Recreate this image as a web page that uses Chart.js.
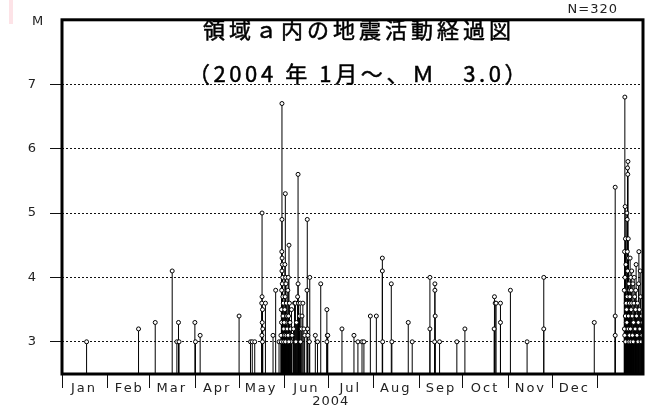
<!DOCTYPE html>
<html>
<head>
<meta charset="utf-8">
<script src="https://cdn.jsdelivr.net/npm/chart.js@4/dist/chart.umd.min.js"></script>
<style>
  body { margin: 0; background: #fff; }
  #wrap { position: relative; width: 648px; height: 414px; }
  #mark { position: absolute; left: 9px; top: 0; width: 4px; height: 24px; background: #fde3e7; }
</style>
</head>
<body>
<div id="wrap">
  <div id="mark"></div>
  <canvas id="mt" width="648" height="414"></canvas>
</div>
<script>
// days since 2004-01-01 and magnitude of each event (M >= 3.0)
const days = [
  16.8, 52.3, 63.7, 75.3, 78.5, 79.6, 80.0, 90.8, 91.2, 94.4, 121.0,
  128.8, 130.0, 131.7, 136.7, 136.7, 136.5, 137.0, 136.8, 137.2, 136.6, 137.0, 139.0, 144.2, 146.0, 148.3,
  150.3, 150.3, 150.2, 150.4, 150.6, 150.3, 150.8, 150.5, 150.1, 150.9, 151.2, 149.9, 151.0, 150.0, 151.5, 149.6, 149.8,
  152.6, 152.3, 152.8, 153.0, 152.5, 153.3, 152.2, 153.6, 152.9, 153.8, 152.0, 154.0, 151.8, 151.4, 153.1, 152.7,
  155.1, 154.6, 154.3, 155.4, 154.8, 155.8, 156.2, 155.6, 156.5, 154.5, 155.0, 156.8, 157.2,
  158.2, 158.9, 159.5, 160.2, 161.3, 161.3, 161.0, 161.6, 162.3, 162.8, 163.5, 164.0, 164.6, 165.3, 165.8, 159.8, 163.0,
  167.6, 167.4, 167.8, 168.0, 169.3, 169.0, 173.1, 174.6, 176.8, 181.0, 181.3, 181.0, 181.6, 191.3, 199.5,
  202.2, 205.0, 206.3, 210.7, 214.8, 218.9, 218.9, 219.1, 225.0, 225.4, 236.6, 239.3,
  251.4, 251.4, 254.8, 254.8, 255.0, 254.6, 258.0,
  269.8, 275.3, 295.5, 295.3, 296.0, 296.6, 299.6, 299.6, 306.4, 317.8, 329.2, 329.2, 363.7,
  378.0, 378.0, 378.0,
  384.6, 384.8, 385.0, 384.4, 385.3, 384.7, 384.2, 385.5, 384.9, 384.3, 385.1, 384.5, 385.8, 385.6,
  386.7, 386.4, 386.6, 386.0, 386.2, 386.9, 386.3, 387.1, 386.5, 387.4, 386.1, 387.6, 387.0, 386.8, 387.8, 387.3, 386.0, 387.9,
  388.2, 388.6, 388.0, 388.9, 388.4, 389.3, 389.0, 389.6, 389.8, 388.7, 389.2, 390.1, 390.5, 390.3, 390.8,
  391.0, 391.3, 391.6, 391.9, 392.3, 392.0, 392.6, 392.9, 393.2, 393.5, 393.8, 394.2, 394.0, 394.5, 394.8,
  395.1, 395.4, 395.7, 396.0, 396.3, 396.6
];
const mags = [
  3.0, 3.2, 3.3, 4.1, 3.0, 3.3, 3.0, 3.3, 3.0, 3.1, 3.4,
  3.0, 3.0, 3.0, 5.0, 3.7, 3.6, 3.5, 3.3, 3.2, 3.1, 3.0, 3.6, 3.1, 3.8, 3.0,
  6.7, 4.9, 4.4, 4.3, 4.2, 4.1, 4.0, 3.9, 3.8, 3.7, 3.6, 3.5, 3.4, 3.3, 3.2, 3.1, 3.0,
  5.3, 4.2, 4.0, 3.9, 3.7, 3.6, 3.5, 3.4, 3.3, 3.2, 3.1, 3.0, 3.3, 3.0, 3.1, 3.0,
  4.5, 4.0, 3.8, 3.6, 3.4, 3.3, 3.2, 3.1, 3.0, 3.1, 3.0, 3.5, 3.1,
  3.2, 3.6, 3.6, 3.3, 5.6, 3.9, 3.7, 3.6, 3.4, 3.6, 3.2, 3.4, 3.6, 3.2, 3.1, 3.0, 3.0,
  4.9, 3.8, 3.2, 3.1, 4.0, 3.0, 3.1, 3.0, 3.9, 3.5, 3.1, 3.0, 3.1, 3.2, 3.1,
  3.0, 3.0, 3.0, 3.4, 3.4, 4.3, 4.1, 3.0, 3.9, 3.0, 3.3, 3.0,
  4.0, 3.2, 3.9, 3.8, 3.4, 3.0, 3.0,
  3.0, 3.2, 3.7, 3.2, 3.6, 3.6, 3.6, 3.3, 3.8, 3.0, 4.0, 3.2, 3.3,
  5.4, 3.4, 3.1,
  6.8, 5.1, 4.6, 4.4, 4.2, 4.0, 3.8, 3.6, 3.4, 3.2, 3.0, 3.1, 3.5, 3.3,
  5.8, 5.7, 5.6, 5.0, 4.9, 4.6, 4.4, 4.3, 4.1, 3.9, 3.7, 3.6, 3.4, 3.2, 3.1, 3.0, 3.3, 3.8,
  4.3, 4.0, 3.7, 3.5, 3.2, 4.1, 3.8, 3.4, 3.1, 3.0, 3.6, 3.9, 3.3, 3.0, 3.6,
  4.0, 3.7, 3.2, 3.5, 4.2, 3.8, 3.4, 3.1, 3.6, 3.0, 3.3, 4.4, 3.9, 3.5, 3.2,
  4.1, 3.7, 3.0, 3.4, 3.1, 3.3
];
const monthStarts = [0, 31, 60, 91, 121, 152, 182, 213, 244, 274, 305, 335, 366];
const monthNames = ['Jan', 'Feb', 'Mar', 'Apr', 'May', 'Jun', 'Jul', 'Aug', 'Sep', 'Oct', 'Nov', 'Dec'];
const magTicks = [3, 4, 5, 6, 7];

const titleLines = ['領域ａ内の地震活動経過図', '（2004 年 1月～、Ｍ　3.0）'];
const countLabel = 'N=320';
const yearLabel = '2004';

const TXT = '"DejaVu Sans", sans-serif';
const CJK = '"Noto Sans CJK JP", sans-serif';

const stems = {
  id: 'stems',
  beforeDraw(chart) { chart.ctx.letterSpacing = '2px'; },
  beforeDatasetsDraw(chart) {
    const { ctx, chartArea: a, scales: { x, y } } = chart;
    const base = y.getPixelForValue(y.min);
    ctx.save();
    ctx.beginPath();
    ctx.rect(a.left, a.top, a.right - a.left, a.bottom - a.top);
    ctx.clip();
    ctx.strokeStyle = '#000';
    ctx.lineWidth = 1;
    ctx.beginPath();
    days.forEach((d, i) => {
      const px = x.getPixelForValue(d);
      ctx.moveTo(px, base);
      ctx.lineTo(px, y.getPixelForValue(mags[i]));
    });
    ctx.stroke();
    ctx.restore();
  },
  afterDraw(chart) {
    const { ctx, chartArea: a, scales: { x, y } } = chart;
    ctx.save();
    // frame
    ctx.strokeStyle = '#000';
    ctx.lineWidth = 3;
    ctx.strokeRect(a.left, a.top, a.right - a.left, a.bottom - a.top);

    // title, slightly thickened
    ctx.fillStyle = '#000';
    ctx.lineWidth = 0.5;
    ctx.textBaseline = 'middle';
    ctx.textAlign = 'center';
    ctx.font = '22px ' + CJK;
    ctx.letterSpacing = '4px';
    ctx.fillText(titleLines[0], 359, 30);
    ctx.strokeText(titleLines[0], 359, 30);
    ctx.letterSpacing = '3.6px';
    ctx.fillText(titleLines[1], 359, 74);
    ctx.strokeText(titleLines[1], 359, 74);

    ctx.font = '13px ' + TXT;
    ctx.fillStyle = '#222';
    ctx.letterSpacing = '1px';
    ctx.textAlign = 'left';
    ctx.fillText('M', 32, y.getPixelForValue(8) + 2);
    ctx.textAlign = 'right';
    ctx.fillText(countLabel, 618, 10);
    ctx.textAlign = 'center';
    ctx.fillText(yearLabel, x.getPixelForValue(183) + 1, 402);
    ctx.restore();
    ctx.letterSpacing = '0px';
  }
};

new Chart(document.getElementById('mt'), {
  type: 'scatter',
  data: {
    datasets: [{
      data: days.map((d, i) => ({ x: d, y: mags[i] })),
      pointRadius: 2,
      pointBorderWidth: 1,
      pointBorderColor: '#000',
      pointBackgroundColor: '#fff',
      pointHoverRadius: 2
    }]
  },
  options: {
    responsive: false,
    animation: false,
    layout: { padding: { top: 18, right: 5, bottom: 0, left: 0 } },
    plugins: { legend: { display: false }, tooltip: { enabled: false } },
    scales: {
      x: {
        type: 'linear',
        min: 0,
        max: 397,
        afterFit: s => { s.height = 40; },
        afterBuildTicks: s => { s.ticks = monthStarts.map(v => ({ value: v })); },
        grid: { drawOnChartArea: false, drawTicks: true, tickLength: 14, tickColor: '#111', tickWidth: 1 },
        border: { display: false },
        ticks: {
          autoSkip: false, maxRotation: 0, minRotation: 0,
          padding: -7, labelOffset: 22,
          color: '#222', font: { family: TXT, size: 13 },
          callback: (v, i) => monthNames[i] || ''
        }
      },
      y: {
        min: 2.5,
        max: 8,
        afterFit: s => { s.width = 62; },
        afterBuildTicks: s => { s.ticks = magTicks.map(v => ({ value: v })); },
        grid: { color: '#111', lineWidth: 1, tickLength: 12, tickColor: '#111', tickBorderDash: [] },
        border: { display: false, dash: [2, 2] },
        ticks: { padding: 12, color: '#222', font: { family: TXT, size: 13 } }
      }
    }
  },
  plugins: [stems]
});
</script>
</body>
</html>
